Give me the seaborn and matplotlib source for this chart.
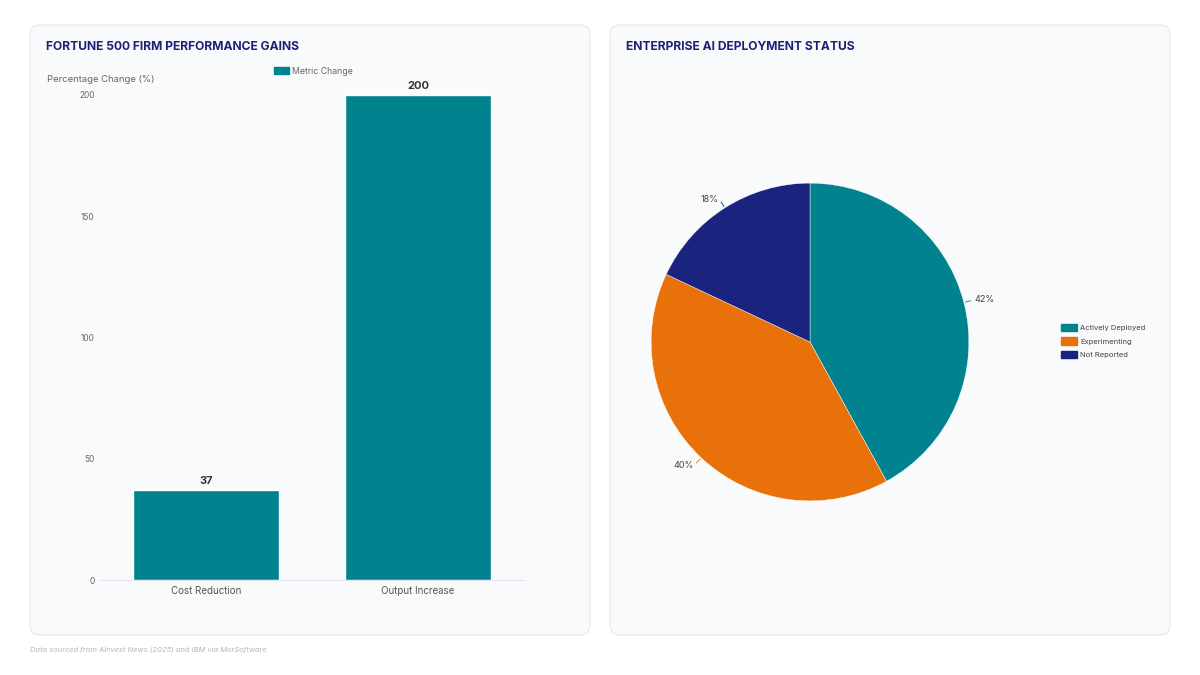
import matplotlib
matplotlib.use("Agg")
import numpy as np
import pandas as pd
import matplotlib.pyplot as plt
import seaborn as sns
from matplotlib.patches import FancyBboxPatch, Patch

# данные
metrics = ["Cost Reduction", "Output Increase"]
metric_change = [37, 200]

status = ["Actively Deployed", "Experimenting", "Not Reported"]
status_share = [42, 40, 18]

teal = "#00838f"
orange = "#e8710a"
navy = "#1a237e"
pie_colors = [teal, orange, navy]

sns.set_theme(style="white")
plt.rcParams["font.family"] = ["Inter", "DejaVu Sans"]

W, H = 1200, 675
fig = plt.figure(figsize=(12, 6.75), dpi=100)
fig.patch.set_facecolor("white")


def fx(px):
    return px / W


def fy(py):
    return 1 - py / H


# карточки (под осями)
for x0 in (30, 610):
    card = FancyBboxPatch((fx(x0), fy(635)), fx(560), 610 / H,
                          boxstyle="round,pad=0,rounding_size=0.008",
                          mutation_aspect=W / H,
                          transform=fig.transFigure, facecolor="#f8fafc",
                          edgecolor="#e4e8ee", lw=0.8, zorder=-10)
    fig.patches.append(card)

# --- столбчатая диаграмма ---
ax = fig.add_axes([fx(100), fy(580), fx(424), 485 / H])
df = pd.DataFrame({"metric": metrics, "change": metric_change})
sns.barplot(data=df, x="metric", y="change", color=teal, saturation=1,
            width=0.69, ax=ax)
ax.set_facecolor("none")
ax.set_xlim(-0.5, 1.5)
ax.set_ylim(0, 200)
ax.set_yticks([0, 50, 100, 150, 200])
ax.set_xlabel("")
ax.set_ylabel("")
for s in ["top", "right", "left"]:
    ax.spines[s].set_visible(False)
ax.spines["bottom"].set_color("#e3e6ea")
ax.spines["bottom"].set_linewidth(0.8)
ax.tick_params(axis="y", length=0, pad=4, labelsize=6, labelcolor="#666666")
ax.tick_params(axis="x", length=0, pad=4, labelsize=7, labelcolor="#555555")
ax.bar_label(ax.containers[0], fmt="%d", padding=3, fontsize=8,
             fontweight="bold", color="#333333")

fig.text(fx(46), fy(47), "FORTUNE 500 FIRM PERFORMANCE GAINS", fontsize=8.7,
         fontweight="bold", color="#1f1f78", va="center", ha="left")
fig.text(fx(47), fy(80), "Percentage Change (%)", fontsize=6.8,
         color="#666666", va="center", ha="left")
fig.legend(handles=[Patch(facecolor=teal, edgecolor=teal)],
           labels=["Metric Change"], loc="center left",
           bbox_to_anchor=(fx(266), fy(71)), frameon=False, fontsize=6.3,
           handlelength=1.7, handleheight=1.0, handletextpad=0.35,
           labelcolor="#666666")

# --- круговая диаграмма ---
fig.text(fx(626), fy(47), "ENTERPRISE AI DEPLOYMENT STATUS", fontsize=8.7,
         fontweight="bold", color="#1f1f78", va="center", ha="left")
R = 1.35
ax2 = fig.add_axes([fx(810 - 214.5), fy(342 + 214.5), fx(429), 429 / H])
wedges, _ = ax2.pie(status_share, colors=pie_colors, startangle=90,
                    counterclock=False, radius=1,
                    wedgeprops=dict(edgecolor="white", linewidth=0.3))
ax2.set_xlim(-R, R)
ax2.set_ylim(-R, R)
ax2.set_aspect("equal")
ax2.axis("off")

for w, val, c in zip(wedges, status_share, pie_colors):
    th = np.deg2rad((w.theta1 + w.theta2) / 2)
    cx, cy = np.cos(th), np.sin(th)
    ax2.plot([1.01 * cx, 1.045 * cx], [1.01 * cy, 1.045 * cy], color=c, lw=0.6)
    ax2.text(1.07 * cx, 1.065 * cy, f"{val}%", fontsize=6.5, color="#444444",
             ha="left" if cx > 0 else "right", va="center")

fig.legend(handles=[Patch(facecolor=c, edgecolor=c) for c in pie_colors],
           labels=status, loc="center left",
           bbox_to_anchor=(fx(1054), fy(341)), frameon=False, fontsize=5.5,
           handlelength=2.1, handleheight=1.05, handletextpad=0.4,
           labelspacing=0.85, labelcolor="#444444")

fig.text(fx(30), fy(650), "Data sourced from AInvest News (2025) and IBM via MorSoftware",
         fontsize=5.4, style="italic", color="#b5b5b5", va="center", ha="left")

fig.savefig("out.png", dpi=100)
